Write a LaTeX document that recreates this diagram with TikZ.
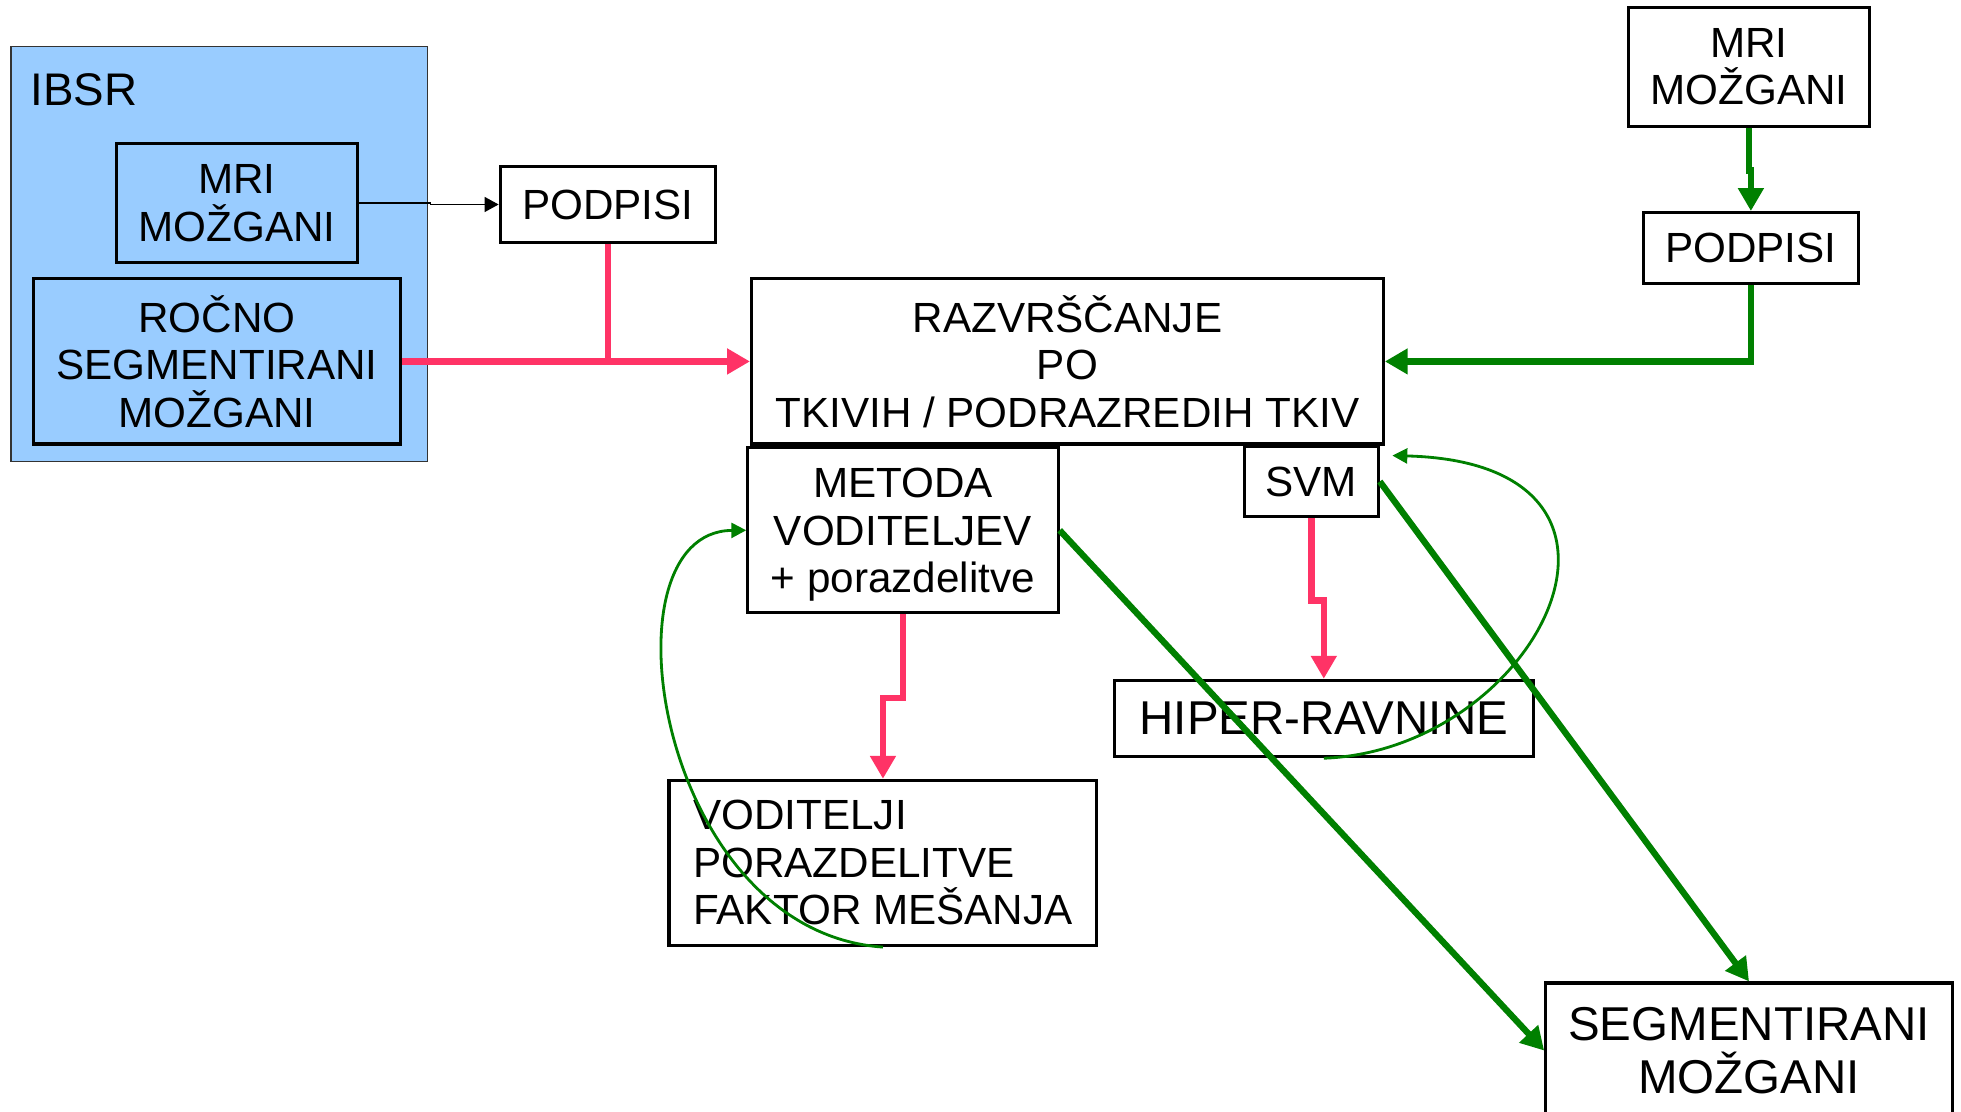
\documentclass[tikz,border=0pt]{standalone}
\usepackage{fontspec}
\setmainfont{Liberation Sans}
\usetikzlibrary{arrows.meta,calc}
\definecolor{ibsrblue}{HTML}{99CCFF}
\definecolor{pinkc}{HTML}{FF3366}
\definecolor{greenc}{HTML}{008000}
\begin{document}
\begin{tikzpicture}[x=0.025cm,y=-0.025cm,
  box/.style={draw=black,line width=1.8pt,inner sep=0pt,align=center,font=\fontsize{24}{27}\selectfont},
  bluebox/.style={box,fill=ibsrblue},
  pinkarrow/.style={draw=pinkc,line width=3.7pt,line join=miter,-{Triangle[length=13pt,width=14pt]}},
  pinkline/.style={draw=pinkc,line width=3.7pt},
  greenarrow/.style={draw=greenc,line width=3.6pt,line join=miter,-{Triangle[length=13pt,width=14pt]}},
  thingreen/.style={draw=greenc,line width=1.6pt,-{Triangle[length=8.5pt,width=8.5pt]}},
  thinblack/.style={draw=black,line width=0.9pt,-{Triangle[length=8pt,width=8.5pt]}}]
\useasboundingbox (0,0) rectangle (1568,889);
\fill[white] (0,0) rectangle (1568,889);
% IBSR group
\node[draw=black!80,line width=0.8pt,fill=ibsrblue,minimum width=8.325cm,minimum height=8.3cm,inner sep=0pt] (ibsr) at (175.5,203) {};
\node[anchor=west,inner sep=0pt,font=\fontsize{26}{30}\selectfont] (ibsrlabel) at (24,72) {IBSR};
\node[bluebox,minimum width=4.825cm,minimum height=2.375cm] (mri1) at (189.5,162.5) {MRI\\MOŽGANI};
\node[bluebox,minimum width=7.325cm,minimum height=3.3cm] (rocno) at (173.5,289) {ROČNO\\SEGMENTIRANI\\MOŽGANI};
% other boxes
\node[box,minimum width=4.3cm,minimum height=1.525cm] (pod1) at (486,163.5) {PODPISI};
\node[box,minimum width=12.625cm,minimum height=3.3cm] (raz) at (853.5,289) {RAZVRŠČANJE\\PO\\TKIVIH / PODRAZREDIH TKIV};
\node[box,minimum width=6.2cm,minimum height=3.3cm,text depth=0pt] (met) at (722,424) {METODA\\VODITELJEV\\+ porazdelitve};
\node[box,minimum width=2.675cm,minimum height=1.4cm] (svm) at (1048.5,385) {SVM};
\node[box,minimum width=8.375cm,minimum height=1.525cm,font=\fontsize{27}{30}\selectfont] (hip) at (1058.5,574.5) {HIPER-RAVNINE};
\node[box,align=left,minimum width=8.55cm,minimum height=3.3cm] (vod) at (706,690) {VODITELJI\\PORAZDELITVE\\FAKTOR MEŠANJA};
\node[box,minimum width=8.125cm,minimum height=2.7cm,font=\fontsize{27}{30}\selectfont] (seg) at (1398.5,840) {SEGMENTIRANI\\MOŽGANI};
\node[box,minimum width=4.825cm,minimum height=2.375cm] (mri2) at (1398.5,53.5) {MRI\\MOŽGANI};
\node[box,minimum width=4.3cm,minimum height=1.425cm] (pod2) at (1400,198.5) {PODPISI};
% connectors
\draw[thinblack] (mri1.east) -- ++(57,0) |- (pod1.west);
\draw[pinkline] (pod1.south) -- (pod1.south |- raz.west);
\draw[pinkarrow] (rocno.east) -- (raz.west);
\draw[greenarrow] (mri2.south) -- ++(0,34) -| (pod2.north);
\draw[greenarrow] (pod2.south) -- (pod2.south |- raz.east) -- (raz.east);
\draw[pinkarrow] (met.south) -- ++(0,67) -| (vod.north);
\draw[pinkarrow] (svm.south) -- ++(0,66) -| (hip.north);
\draw[greenarrow] (met.east) -- (seg.west);
\draw[greenarrow] (svm.east) -- (seg.north);
\draw[thingreen] (vod.south) .. controls (525,745) and (478,425) .. (met.west);
\coordinate (hipend) at ($(raz.south east)+(6,8)$);
\draw[thingreen] (hip.south) .. controls (1230,600) and (1345,370) .. (hipend);
\end{tikzpicture}
\end{document}
